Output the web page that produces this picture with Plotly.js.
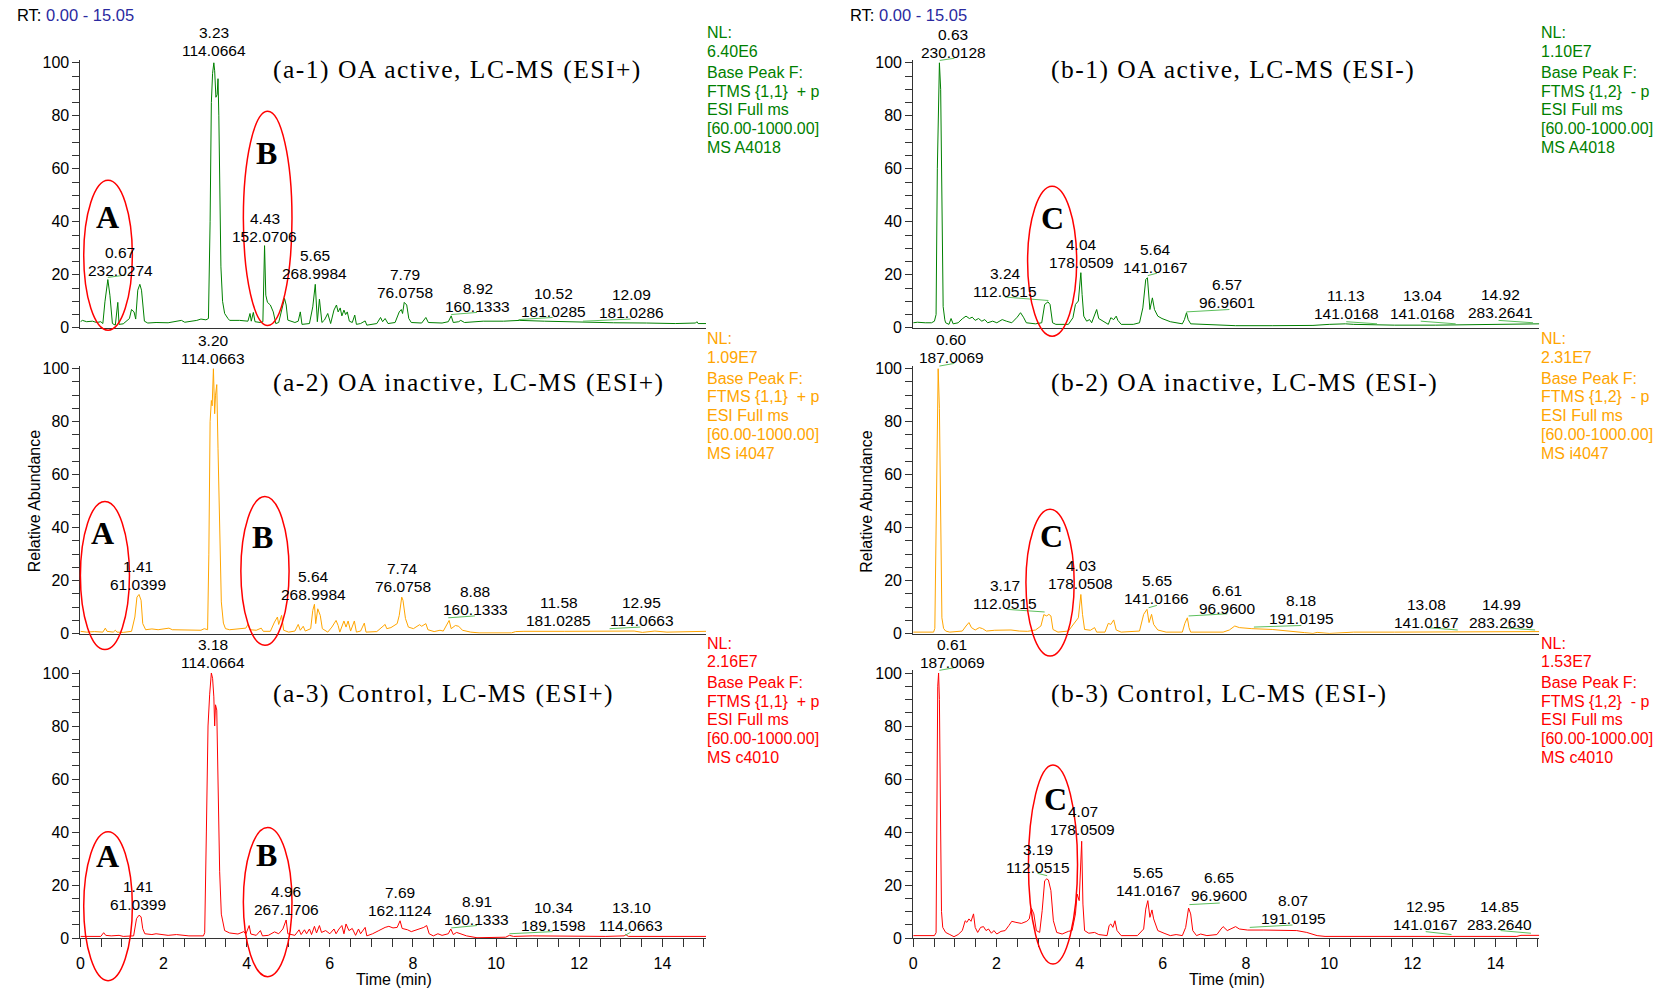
<!DOCTYPE html>
<html><head><meta charset="utf-8">
<script src="https://cdn.plot.ly/plotly-3.0.1.min.js"></script>
<style>html,body{margin:0;padding:0;background:#fff}</style>
</head><body><div id="chart" style="width:1655px;height:991px"></div>
<script>
// ---------------- DATA (time [min], relative abundance [%]) ----------------
const a1_points = [[0,2.3],[0.05,2.8],[0.15,2.3],[0.29,2.5],[0.39,2.0],[0.49,2.3],[0.54,1.6],[0.59,9.8],[0.66,18.2],[0.71,12.3],[0.77,1.6],[0.84,1.0],[0.90,9.6],[0.93,1.3],[1.03,1.5],[1.18,3.5],[1.23,6.9],[1.29,6.0],[1.33,3.3],[1.38,14.2],[1.43,16.4],[1.47,14.2],[1.54,2.5],[1.62,1.8],[1.82,2.0],[2.11,1.9],[2.43,2.8],[2.51,2.1],[2.80,2.8],[2.90,3.3],[3.02,3.0],[3.08,3.5],[3.12,40],[3.15,85],[3.18,96],[3.21,100],[3.23,97],[3.26,87],[3.29,88],[3.31,94],[3.33,80],[3.36,45],[3.38,23],[3.42,10],[3.47,5.4],[3.55,3.5],[3.59,2.8],[3.83,2.8],[4.03,2.5],[4.08,5.4],[4.11,2.5],[4.16,5.8],[4.20,2.3],[4.33,2.0],[4.39,2.3],[4.43,31],[4.46,12.3],[4.50,9.6],[4.57,8.6],[4.64,6.0],[4.70,1.6],[4.77,2.0],[4.84,6.7],[4.91,11.1],[4.95,8.6],[4.99,2.9],[5.16,2.0],[5.24,2.5],[5.29,6.0],[5.33,1.3],[5.51,1.6],[5.59,7.9],[5.65,16.4],[5.70,2.3],[5.75,10.8],[5.81,2.0],[5.87,2.9],[5.95,5.4],[6.02,1.6],[6.10,6.7],[6.16,8.6],[6.20,6.0],[6.25,7.5],[6.29,4.5],[6.34,6.7],[6.38,5.0],[6.42,6.0],[6.47,2.5],[6.54,2.0],[6.60,4.8],[6.64,1.3],[6.74,1.6],[6.85,2.6],[6.89,1.0],[7.13,1.6],[7.22,3.9],[7.27,2.3],[7.33,3.5],[7.40,1.6],[7.57,2.0],[7.67,6.0],[7.72,6.9],[7.75,5.4],[7.79,9.6],[7.85,8.6],[7.90,3.5],[7.96,2.0],[8.21,1.8],[8.31,3.9],[8.37,2.0],[8.70,1.8],[8.85,2.3],[8.92,4.5],[8.97,2.0],[9.10,2.3],[9.15,2.8],[9.24,2.0],[9.69,2.5],[10.18,2.5],[10.57,2.8],[11.16,2.5],[11.65,2.3],[12.24,2.1],[12.83,1.9],[13.62,1.8],[14.31,1.6],[14.80,1.8],[14.83,2.3],[14.86,1.6],[15.05,1.6]];

const a2_points = [[0,0.9],[0.15,0.6],[0.34,0.8],[0.54,0.6],[0.60,2.1],[0.64,0.9],[0.79,0.6],[0.84,1.3],[0.88,0.6],[1.03,0.5],[1.23,0.9],[1.31,6.3],[1.36,13.8],[1.41,14.8],[1.46,12.6],[1.50,3.8],[1.57,1.5],[1.72,1.8],[1.87,1.5],[2.06,1.8],[2.13,2.1],[2.21,1.5],[2.61,1.3],[2.90,1.3],[2.98,1.9],[3.06,1.5],[3.09,30],[3.12,80],[3.15,88],[3.17,86],[3.20,100],[3.23,83],[3.25,90],[3.28,94],[3.31,70],[3.35,35],[3.39,12],[3.44,4],[3.49,1.9],[3.59,1.5],[3.79,1.9],[3.98,2.1],[4.03,3.5],[4.08,1.5],[4.23,1.3],[4.35,2.1],[4.40,0.9],[4.57,0.9],[4.67,4.4],[4.74,6.3],[4.77,3.5],[4.84,6.9],[4.89,1.3],[5.01,0.6],[5.16,1.0],[5.24,3.5],[5.29,1.3],[5.36,2.8],[5.41,1.0],[5.54,1.9],[5.59,8.8],[5.63,11.1],[5.66,3.8],[5.71,9.4],[5.77,6.9],[5.82,1.9],[5.95,0.6],[6.05,2.5],[6.15,5.0],[6.20,3.1],[6.24,0.6],[6.34,4.8],[6.39,2.5],[6.44,4.8],[6.50,1.0],[6.59,4.8],[6.64,0.6],[6.74,1.0],[6.83,4.0],[6.87,0.6],[7.13,0.8],[7.33,3.5],[7.37,1.9],[7.47,2.3],[7.62,3.8],[7.67,6.9],[7.73,13.8],[7.76,12.6],[7.82,5.7],[7.89,2.5],[8.01,1.9],[8.16,3.4],[8.21,2.8],[8.31,3.8],[8.36,1.5],[8.51,0.8],[8.65,1.3],[8.73,1.0],[8.87,5.0],[8.92,1.9],[9.02,3.1],[9.10,2.8],[9.19,1.3],[9.39,0.6],[9.59,0.3],[10.37,0.3],[10.47,0.8],[10.67,0.9],[11.65,0.9],[12.64,0.9],[13.32,1.0],[13.52,0.5],[13.82,1.0],[14.11,0.6],[14.60,0.9],[15.05,0.9]];

const a3_points = [[0,0.6],[0.25,0.6],[0.49,0.6],[0.56,2.0],[0.61,1.0],[0.74,0.8],[0.93,1.0],[1.03,0.6],[1.28,0.8],[1.35,7.3],[1.41,8.6],[1.46,8.0],[1.50,3.5],[1.55,1.6],[1.72,1.3],[1.82,1.6],[2.11,1.0],[2.31,1.3],[2.61,0.8],[2.96,0.8],[2.99,2.0],[3.03,40],[3.07,80],[3.11,92],[3.15,100],[3.18,98],[3.21,91],[3.23,80],[3.25,88],[3.28,86],[3.31,60],[3.35,25],[3.39,9],[3.47,2.8],[3.59,1.9],[3.79,1.5],[3.93,2.4],[3.98,1.5],[4.06,4.7],[4.10,1.5],[4.23,1.0],[4.33,2.8],[4.38,0.8],[4.52,1.0],[4.67,2.3],[4.77,1.6],[4.87,3.4],[4.95,6.8],[4.99,1.6],[5.16,1.0],[5.26,3.1],[5.31,1.3],[5.39,3.1],[5.44,1.6],[5.51,3.4],[5.56,1.3],[5.63,4.4],[5.68,1.9],[5.75,4.7],[5.80,2.1],[5.90,2.8],[6.00,1.6],[6.10,3.4],[6.15,1.6],[6.22,3.4],[6.29,4.7],[6.34,1.6],[6.39,5.3],[6.46,2.8],[6.54,3.6],[6.62,1.0],[6.69,3.4],[6.74,1.6],[6.85,4.0],[6.89,0.8],[7.03,1.6],[7.18,2.8],[7.33,4.0],[7.42,4.4],[7.52,3.8],[7.62,4.0],[7.69,6.5],[7.74,3.6],[7.87,3.1],[7.96,2.4],[8.11,3.1],[8.26,4.0],[8.33,4.7],[8.39,1.6],[8.49,0.8],[8.60,1.6],[8.70,1.0],[8.85,1.6],[8.91,3.4],[8.97,1.3],[9.05,2.1],[9.14,1.6],[9.29,0.8],[9.54,0.1],[9.98,0.1],[10.23,0.3],[10.32,1.0],[10.42,0.6],[10.87,0.8],[11.65,0.6],[12.64,0.6],[13.08,0.8],[13.12,1.3],[13.18,0.6],[14.11,0.6],[15.05,0.6]];

const b1_points = [[0,1.9],[0.10,2.1],[0.29,1.9],[0.44,1.9],[0.51,2.5],[0.55,5],[0.58,60],[0.61,95],[0.63,100],[0.66,90],[0.69,40],[0.72,8],[0.76,3],[0.78,1.9],[0.86,1.3],[0.91,3.5],[0.96,1.5],[1.08,1.9],[1.18,3.4],[1.27,4.4],[1.35,3.5],[1.42,4.0],[1.49,2.8],[1.57,3.5],[1.65,2.5],[1.72,3.1],[1.79,1.9],[1.91,2.5],[2.01,1.9],[2.14,3.1],[2.24,2.5],[2.37,1.9],[2.50,4.0],[2.58,5.7],[2.65,4.0],[2.72,1.9],[2.94,1.5],[3.09,1.9],[3.16,8.8],[3.24,9.8],[3.29,8.8],[3.35,1.9],[3.43,1.3],[3.73,1.3],[3.84,3.8],[3.90,8.8],[3.97,10.1],[4.03,20.8],[4.06,12.6],[4.10,4.4],[4.17,2.5],[4.24,3.1],[4.29,1.9],[4.36,4.8],[4.41,6.9],[4.46,3.5],[4.53,2.8],[4.61,1.9],[4.69,1.3],[4.75,3.8],[4.82,3.1],[4.88,4.4],[4.92,2.8],[5.00,1.3],[5.29,1.3],[5.44,1.9],[5.52,7.5],[5.59,18.2],[5.63,18.9],[5.69,6.9],[5.75,11.3],[5.80,6.9],[5.88,4.4],[5.98,3.5],[6.18,2.3],[6.47,1.5],[6.52,3.1],[6.57,5.7],[6.61,3.1],[6.67,1.5],[7.16,1.3],[7.75,0.8],[8.63,0.8],[9.61,0.9],[10.0,1.3],[10.39,1.5],[10.59,1.3],[11.57,1.0],[12.55,1.0],[13.63,1.3],[14.02,1.3],[14.51,1.5],[15.05,1.5]];

const b2_points = [[0,0.6],[0.29,0.6],[0.49,0.6],[0.52,2],[0.55,40],[0.58,95],[0.60,100],[0.63,85],[0.66,30],[0.69,6],[0.73,2],[0.78,1.0],[0.88,0.6],[1.18,1.0],[1.27,2.9],[1.34,4.2],[1.40,2.3],[1.49,1.4],[1.59,2.3],[1.67,1.9],[1.76,1.0],[1.96,1.3],[2.35,1.4],[2.55,1.0],[2.75,0.9],[2.94,1.4],[3.07,2.9],[3.14,7.2],[3.21,6.7],[3.26,7.3],[3.31,6.7],[3.36,1.6],[3.48,0.6],[3.73,1.0],[3.82,2.9],[3.90,4.8],[3.97,6.0],[4.03,14.8],[4.07,7.3],[4.12,1.6],[4.26,1.3],[4.36,2.3],[4.41,0.6],[4.61,0.6],[4.69,3.9],[4.75,3.5],[4.82,5.2],[4.88,1.4],[5.00,0.6],[5.44,1.0],[5.54,7.3],[5.62,9.2],[5.67,4.2],[5.73,7.3],[5.78,3.5],[5.88,1.4],[6.08,0.6],[6.47,0.6],[6.53,3.9],[6.59,6.0],[6.63,2.3],[6.67,0.6],[7.45,0.6],[7.60,1.4],[7.73,2.9],[7.84,2.3],[8.14,1.9],[8.63,1.6],[9.12,1.0],[9.41,0.4],[9.61,0.1],[9.71,0.5],[10.0,0.1],[10.39,0.3],[10.59,0.6],[11.57,0.6],[12.55,0.6],[13.63,0.6],[14.31,0.8],[15.05,0.8]];

const b3_points = [[0,0.9],[0.29,0.9],[0.51,0.9],[0.55,2],[0.57,50],[0.59,95],[0.61,100],[0.63,90],[0.66,40],[0.68,10],[0.71,4],[0.78,2.1],[0.88,1.3],[0.98,0.5],[1.08,1.3],[1.18,2.8],[1.25,6.5],[1.29,5.9],[1.34,7.2],[1.39,6.3],[1.45,9.1],[1.49,4.0],[1.55,2.1],[1.62,4.0],[1.69,4.3],[1.75,2.8],[1.81,3.4],[1.88,1.8],[1.94,2.8],[2.01,1.5],[2.11,2.5],[2.21,2.8],[2.30,4.7],[2.37,6.3],[2.47,5.9],[2.60,5.5],[2.73,6.3],[2.79,7.2],[2.84,11.3],[2.90,9.1],[2.96,2.8],[3.04,2.1],[3.10,10.3],[3.16,21.6],[3.21,22.3],[3.25,21.9],[3.31,17.9],[3.37,6.5],[3.45,2.1],[3.58,1.5],[3.73,2.5],[3.82,2.8],[3.90,9.1],[3.94,16.6],[3.99,14.1],[4.05,36.5],[4.08,12.8],[4.12,2.8],[4.22,1.8],[4.36,2.1],[4.46,1.3],[4.66,0.9],[4.71,4.7],[4.75,5.3],[4.80,4.0],[4.85,6.5],[4.90,2.8],[5.00,0.9],[5.39,0.9],[5.54,3.4],[5.59,10.9],[5.64,14.1],[5.69,7.8],[5.74,10.6],[5.78,7.2],[5.88,2.8],[6.03,1.8],[6.18,0.9],[6.32,1.3],[6.47,0.9],[6.55,4.0],[6.62,11.3],[6.67,9.1],[6.72,2.8],[6.81,0.9],[6.91,1.5],[7.06,0.9],[7.30,1.3],[7.40,3.4],[7.45,4.3],[7.55,2.8],[7.65,3.4],[7.75,4.3],[7.84,3.4],[8.04,3.0],[8.43,3.0],[8.82,3.0],[9.22,2.8],[9.46,2.1],[9.61,1.5],[9.71,0.9],[9.90,0.6],[11.57,0.6],[13.53,0.6],[14.51,0.6],[14.61,1.0],[15.05,1.0]];

// Peak labels: [RT text, m/z text, label x (min), label y (%), connector [x1,y1,x2,y2] or null]
const a1_labels = [['3.23','114.0664',3.22,104.5,null],['0.67','232.0274',0.96,21.7,[0.66,19.0,1.08,19.9]],['4.43','152.0706',4.43,34.5,null],['5.65','268.9984',5.64,20.6,null],['7.79','76.0758',7.82,13.3,null],['8.92','160.1333',9.56,7.9,[8.92,5.0,9.54,5.8]],['10.52','181.0285',11.37,6.0,[10.54,3.1,11.36,3.9]],['12.09','181.0286',13.25,5.6,[12.09,2.5,13.24,3.3]]];
const a2_labels = [['3.20','114.0663',3.19,104,null],['1.41','61.0399',1.39,18.6,null],['5.64','268.9984',5.61,14.7,null],['7.74','76.0758',7.75,18,null],['8.88','160.1333',9.5,9.2,[8.85,6.0,9.49,6.7]],['11.58','181.0285',11.51,4.8,null],['12.95','114.0663',13.5,4.8,[12.73,1.9,13.47,2.5]]];
const a3_labels = [['3.18','114.0664',3.18,104,null],['1.41','61.0399',1.39,12.8,null],['4.96','267.1706',4.95,10.9,null],['7.69','162.1124',7.70,10.3,null],['8.91','160.1333',9.54,6.8,[8.92,3.8,9.54,4.7]],['10.34','189.1598',11.39,4.6,[10.32,1.6,11.36,2.4]],['13.10','114.0663',13.25,4.6,[13.10,1.0,13.24,2.2]]];
const b1_labels = [['0.63','230.0128',0.96,104,[0.64,100.9,0.99,101.7]],['3.24','112.0515',2.21,13.6,[2.21,11.6,3.25,10.3]],['4.04','178.0509',4.04,24.5,null],['5.64','141.0167',5.83,22.9,[5.64,19.7,5.86,20.6]],['6.57','96.9601',7.55,9.4,[6.57,6.0,7.6,6.9]],['11.13','141.0168',10.41,5.3,[10.41,2.3,11.15,1.5]],['13.04','141.0168',12.24,5.3,[12.2,2.5,13.04,1.5]],['14.92','283.2641',14.11,5.7,[14.07,2.8,14.9,1.9]]];
const b2_labels = [['0.60','187.0069',0.93,104.3,[0.63,101,0.99,102]],['3.17','112.0515',2.21,11.4,[2.24,9.2,3.16,8.2]],['4.03','178.0508',4.03,18.9,null],['5.65','141.0166',5.86,13.2,[5.66,9.8,5.86,10.7]],['6.61','96.9600',7.55,9.4,[6.62,6.7,7.55,7.5]],['8.18','191.0195',9.33,5.8,[8.19,2.5,9.33,3.1]],['13.08','141.0167',12.33,4.4,[12.35,2.3,13.09,1.4]],['14.99','283.2639',14.14,4.4,[14.14,2.3,14.95,1.4]]];
const b3_labels = [['0.61','187.0069',0.94,104,[0.63,101,0.99,102]],['3.19','112.0515',2.99,26.7,[2.99,24.4,3.22,23.5]],['4.07','178.0509',4.08,40.8,null],['5.65','141.0167',5.65,17.9,null],['6.65','96.9600',7.36,16,[6.64,12.6,7.37,13.2]],['8.07','191.0195',9.14,7.2,[8.09,4.0,9.12,4.9]],['12.95','141.0167',12.32,5.0,[12.32,2.4,12.94,1.3]],['14.85','283.2640',14.1,5.0,[14.12,2.8,14.85,1.8]]];

// Highlight regions: [x0, x1, y0, y1] in data units, and letters [text, x, y]
const a1_regions = [[0.08,1.25,-0.9,55.7],[3.92,5.09,0.9,81.7]];
const a2_regions = [[0.0,1.18,-6,49.9],[3.86,5.02,-4.4,51.8]];
const a3_regions = [[0.08,1.25,-16.1,40.1],[3.92,5.09,-14.6,41.7]];
const b1_regions = [[2.75,3.93,-3.2,53.4]];
const b2_regions = [[2.71,3.87,-8.4,47]];
const b3_regions = [[2.77,3.95,-9.8,65.3]];
const a1_letters = [['A',0.66,42],['B',4.47,66]];
const a2_letters = [['A',0.54,38],['B',4.38,36.5]];
const a3_letters = [['A',0.66,30.9],['B',4.48,31.4]];
const b1_letters = [['C',3.34,41.5]];
const b2_letters = [['C',3.33,36.8]];
const b3_letters = [['C',3.41,52.5]];

const titles = ['(a-1) OA active, LC-MS (ESI+)','(a-2) OA inactive, LC-MS (ESI+)','(a-3) Control, LC-MS (ESI+)','(b-1) OA active, LC-MS (ESI-)','(b-2) OA inactive, LC-MS (ESI-)','(b-3) Control, LC-MS (ESI-)'];
const a1_info = ['NL:','6.40E6','Base Peak F:','FTMS {1,1}  + p','ESI Full ms','[60.00-1000.00]','MS A4018'];
const a2_info = ['NL:','1.09E7','Base Peak F:','FTMS {1,1}  + p','ESI Full ms','[60.00-1000.00]','MS i4047'];
const a3_info = ['NL:','2.16E7','Base Peak F:','FTMS {1,1}  + p','ESI Full ms','[60.00-1000.00]','MS c4010'];
const b1_info = ['NL:','1.10E7','Base Peak F:','FTMS {1,2}  - p','ESI Full ms','[60.00-1000.00]','MS A4018'];
const b2_info = ['NL:','2.31E7','Base Peak F:','FTMS {1,2}  - p','ESI Full ms','[60.00-1000.00]','MS i4047'];
const b3_info = ['NL:','1.53E7','Base Peak F:','FTMS {1,2}  - p','ESI Full ms','[60.00-1000.00]','MS c4010'];
const xTicks = [0,2,4,6,8,10,12,14];
const yTicks = [0,20,40,60,80,100];

// ---------------- LAYOUT GEOMETRY ----------------
const W = 1655, H = 991;
const GREEN = '#008000', ORANGE = '#FFA500', RED = '#FF0000';
const COLS = [{x0:80.4, ppm:41.57, side:705, title:271, rt:15, ylab:34, xlab:393.7},
              {x0:913.2, ppm:41.6, side:1538.5, title:1048.5, rt:847.5, ylab:866.5, xlab:1226.5}];
const ROWS = [{base:327.8, tdy:6.5}, {base:633.7, tdy:13.4}, {base:938, tdy:20.3}];
const PPU = 2.65, XMAX = 15.05, YMAX = 101;
const SANS = 'Liberation Sans, Arial, Helvetica, sans-serif';
const SERIF = 'Liberation Serif, Times New Roman, serif';
const INFO_DY = [-30, -11.5, 9.5, 28.2, 46.9, 65.6, 84.3];

const px = (c, t) => COLS[c].x0 + t * COLS[c].ppm;
const py = (r, v) => ROWS[r].base - v * PPU;
const fx = p => p / W;
const fy = p => 1 - p / H;

const panels = [
  {row:0,col:0,pts:a1_points,color:GREEN,labels:a1_labels,regions:a1_regions,letters:a1_letters,info:a1_info},
  {row:1,col:0,pts:a2_points,color:ORANGE,labels:a2_labels,regions:a2_regions,letters:a2_letters,info:a2_info},
  {row:2,col:0,pts:a3_points,color:RED,labels:a3_labels,regions:a3_regions,letters:a3_letters,info:a3_info},
  {row:0,col:1,pts:b1_points,color:GREEN,labels:b1_labels,regions:b1_regions,letters:b1_letters,info:b1_info},
  {row:1,col:1,pts:b2_points,color:ORANGE,labels:b2_labels,regions:b2_regions,letters:b2_letters,info:b2_info},
  {row:2,col:1,pts:b3_points,color:RED,labels:b3_labels,regions:b3_regions,letters:b3_letters,info:b3_info}
];

const data = [], annotations = [], shapes = [];
const layout = {width:W, height:H, margin:{l:0,r:0,t:0,b:0}, showlegend:false,
  paper_bgcolor:'#fff', plot_bgcolor:'rgba(0,0,0,0)', font:{family:SANS, size:16, color:'#000'}};

panels.forEach((p, k) => {
  const sfx = k === 0 ? '' : String(k + 1);
  const r = p.row, c = p.col, bottom = r === 2;
  data.push({type:'scatter', mode:'lines', x:p.pts.map(q => q[0]), y:p.pts.map(q => q[1]),
    xaxis:'x' + sfx, yaxis:'y' + sfx, line:{color:p.color, width:1}, hoverinfo:'skip'});
  layout['xaxis' + sfx] = {
    domain:[fx(px(c, 0)), fx(px(c, XMAX))], range:[0, XMAX], anchor:'y' + sfx,
    showline:true, linecolor:'#333', linewidth:1.2, showgrid:false, zeroline:false,
    tickvals: bottom ? xTicks : [], ticks: bottom ? 'outside' : '', ticklen:8, tickcolor:'#333',
    showticklabels: bottom, tickfont:{family:SANS, size:16, color:'#000'}, ticklabelstandoff:3,
    minor: bottom ? {dtick:0.5, tick0:0, ticks:'outside', ticklen:8, tickcolor:'#333'} : {ticks:''}
  };
  layout['yaxis' + sfx] = {
    domain:[fy(py(r, 0)), fy(py(r, YMAX))], range:[0, YMAX], anchor:'x' + sfx,
    showline:true, linecolor:'#333', linewidth:1, showgrid:false, zeroline:false,
    tickvals:yTicks, ticks:'outside', ticklen:7, tickcolor:'#333',
    tickfont:{family:SANS, size:16, color:'#000'},
    minor:{dtick:5, tick0:0, ticks:'outside', ticklen:7, tickcolor:'#333'}
  };
  // peak labels
  p.labels.forEach(L => {
    const lx = fx(px(c, L[2])), ly = py(r, L[3]);
    annotations.push({xref:'paper', yref:'paper', x:lx, y:fy(ly), text:L[1], showarrow:false,
      xanchor:'center', yanchor:'middle', font:{family:SANS, size:15.5, color:'#000'}});
    annotations.push({xref:'paper', yref:'paper', x:lx, y:fy(ly - 18), text:L[0], showarrow:false,
      xanchor:'center', yanchor:'middle', font:{family:SANS, size:15.5, color:'#000'}});
    if (L[4]) {
      const s = L[4];
      shapes.push({type:'line', xref:'paper', yref:'paper',
        x0:fx(px(c, s[0])), y0:fy(py(r, s[1])), x1:fx(px(c, s[2])), y1:fy(py(r, s[3])),
        line:{color:'#5cbf5c', width:1}});
    }
  });
  // highlighted regions
  p.regions.forEach(e => {
    shapes.push({type:'circle', xref:'paper', yref:'paper',
      x0:fx(px(c, e[0])), x1:fx(px(c, e[1])), y0:fy(py(r, e[2])), y1:fy(py(r, e[3])),
      line:{color:'#ff0000', width:1.5}, fillcolor:'rgba(0,0,0,0)'});
  });
  p.letters.forEach(Lt => {
    annotations.push({xref:'paper', yref:'paper', x:fx(px(c, Lt[1])), y:fy(py(r, Lt[2])), text:'<b>' + Lt[0] + '</b>',
      showarrow:false, xanchor:'center', yanchor:'middle', font:{family:SERIF, size:32, color:'#000'}});
  });
  // side info text
  const top = py(r, 100);
  p.info.forEach((t, i) => {
    annotations.push({xref:'paper', yref:'paper', x:fx(COLS[c].side), y:fy(top + INFO_DY[i]),
      text:t.replace(/  /g, '\u00a0 '), showarrow:false, xanchor:'left', yanchor:'middle', align:'left',
      font:{family:SANS, size:16, color:p.color}});
  });
  // panel title
  annotations.push({xref:'paper', yref:'paper', x:fx(COLS[c].title), y:fy(top + ROWS[r].tdy),
    text:titles[k], showarrow:false, xanchor:'left', yanchor:'middle', align:'left',
    font:{family:SERIF, size:25.5, color:'#000'}, name:'paneltitle'});
});

// column-level texts
[0, 1].forEach(c => {
  annotations.push({xref:'paper', yref:'paper', x:fx(COLS[c].rt), y:fy(15), showarrow:false,
    text:'RT: <span style="color:#2a2aa0">0.00 - 15.05</span>', xanchor:'left', yanchor:'middle',
    font:{family:SANS, size:16.5, color:'#000'}});
  annotations.push({xref:'paper', yref:'paper', x:fx(COLS[c].ylab), y:fy((py(1, 0) + py(1, 100)) / 2), showarrow:false,
    text:'Relative Abundance', textangle:-90, xanchor:'center', yanchor:'middle',
    font:{family:SANS, size:16, color:'#000'}});
  annotations.push({xref:'paper', yref:'paper', x:fx(COLS[c].xlab), y:fy(979.5), showarrow:false,
    text:'Time (min)', xanchor:'center', yanchor:'middle', font:{family:SANS, size:16, color:'#000'}});
});

layout.annotations = annotations;
layout.shapes = shapes;

Plotly.newPlot('chart', data, layout, {staticPlot:true, displayModeBar:false}).then(() => {
  document.querySelectorAll('#chart .annotation-text').forEach(el => {
    if (el.textContent.charAt(0) === '(') el.style.letterSpacing = '1.5px';
  });
});
</script></body></html>
